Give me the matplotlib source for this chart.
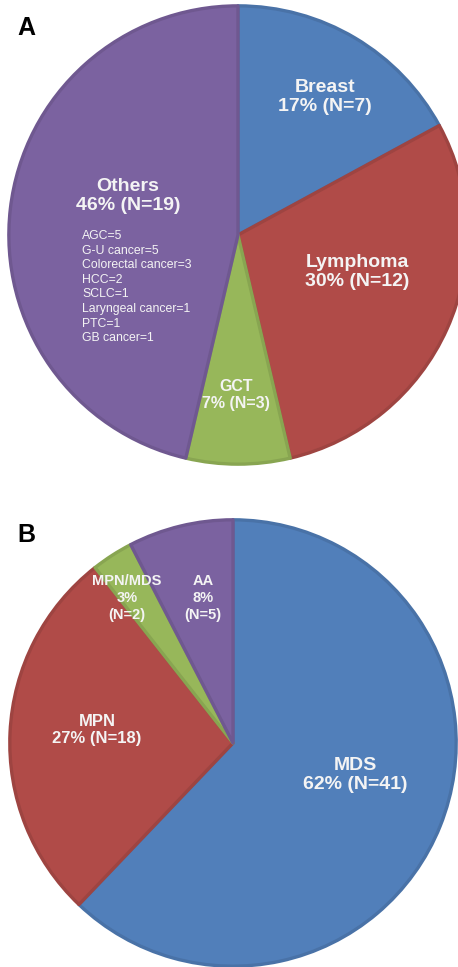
import matplotlib
matplotlib.use("Agg")
import matplotlib.pyplot as plt
from matplotlib.colors import to_rgb

plt.rcParams['font.family'] = ['Liberation Sans', 'DejaVu Sans']

# panel A: solid tumours
a_labels = ['Breast', 'Lymphoma', 'GCT', 'Others']
a_counts = [7, 12, 3, 19]
a_pcts = [17, 30, 7, 46]
others_detail = ['AGC=5', 'G-U cancer=5', 'Colorectal cancer=3', 'HCC=2',
                 'SCLC=1', 'Laryngeal cancer=1', 'PTC=1', 'GB cancer=1']

# panel B: haematological disease
b_labels = ['MDS', 'MPN', 'MPN/MDS', 'AA']
b_counts = [41, 18, 2, 5]
b_pcts = [62, 27, 3, 8]

blue, red, green, purple = '#517fba', '#b04b48', '#97b75a', '#7b62a0'
a_colors = [blue, red, green, purple]
b_colors = [blue, red, green, purple]

W, H = 458, 967
fig = plt.figure(figsize=(W / 100, H / 100), dpi=100)
fig.patch.set_facecolor('white')


def pie_axes(cx, cy, r):
    ax = fig.add_axes([(cx - r) / W, (H - cy - r) / H, 2 * r / W, 2 * r / H])
    return ax


def draw_pie(ax, counts, colors):
    wedges, _ = ax.pie(counts, colors=colors, startangle=90, counterclock=False,
                       radius=0.992)
    for w, c in zip(wedges, colors):
        edge = tuple(min(1, v * 0.9) for v in to_rgb(c))
        w.set_edgecolor(edge)
        w.set_linewidth(2.4)
        w.set_joinstyle('round')
    ax.set_xlim(-1, 1)
    ax.set_ylim(-1, 1)
    ax.set_aspect('auto')
    ax.axis('off')


txt = '#f4f4f4'

# ---- A ----
axA = pie_axes(238, 235, 231)
draw_pie(axA, a_counts, a_colors)

a_pos = [(0.377, 0.597), (0.515, -0.160), (-0.01, -0.693), (-0.476, 0.169)]
a_size = [14, 14, 11.5, 14]
for name, n, p, (x, y), s in zip(a_labels, a_counts, a_pcts, a_pos, a_size):
    axA.text(x, y, f'{name}\n{p}% (N={n})', ha='center', va='center',
             color=txt, fontsize=s, fontweight='bold', linespacing=1.2)

for i, line in enumerate(others_detail):
    axA.text(-0.675, -0.004 - i * 0.0632, line, ha='left', va='center',
             color=txt, fontsize=8.8)

# ---- B ----
axB = pie_axes(233, 743, 225)
draw_pie(axB, b_counts, b_colors)

b_pos = [(0.542, -0.142), (-0.604, 0.058), (-0.471, 0.644), (-0.133, 0.644)]
for name, n, p, (x, y) in zip(b_labels, b_counts, b_pcts, b_pos):
    if name in ('MDS', 'MPN'):
        s = 14 if name == 'MDS' else 12
        label = f'{name}\n{p}% (N={n})'
        ls = 1.2
    else:
        s = 10.5
        label = f'{name}\n{p}%\n(N={n})'
        ls = 1.25
    axB.text(x, y, label, ha='center', va='center', color=txt,
             fontsize=s, fontweight='bold', linespacing=ls)

fig.text(26 / W, 1 - 28 / H, 'A', ha='center', va='center',
         fontsize=18, fontweight='bold', color='black')
fig.text(26 / W, 1 - 535 / H, 'B', ha='center', va='center',
         fontsize=18, fontweight='bold', color='black')

fig.savefig('out.png', dpi=100)
